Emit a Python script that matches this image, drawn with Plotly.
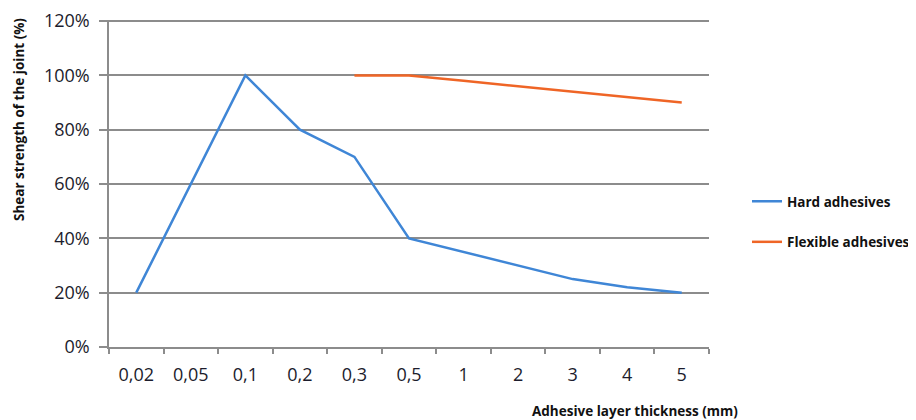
import plotly.graph_objects as go

categories = ["0,02", "0,05", "0,1", "0,2", "0,3", "0,5", "1", "2", "3", "4", "5"]
hard = [20, 60, 100, 80, 70, 40, 35, 30, 25, 22, 20]
flexible = [None, None, None, None, 100, 100, 98, 96, 94, 92, 90]
y_ticks = [0, 20, 40, 60, 80, 100, 120]
y_labels = ["0%", "20%", "40%", "60%", "80%", "100%", "120%"]

font = "Open Sans, Segoe UI, sans-serif"
# page body has an 8px margin; compensate so the plot area lands on the reference pixels
off = 8
W, H = 916 - off, 420 - off
L, R, T, B = 109 - off, 207, 20 - off, 73
pw, ph = W - L - R, H - T - B


def px_x(x):
    return (x - 109) / pw


def px_y(y):
    return (347 - y) / ph


fig = go.Figure()
fig.add_trace(go.Scatter(x=categories, y=hard, mode="lines", name="Hard adhesives",
                         line=dict(color="#3f86d6", width=2.5), legendgroup="a"))
fig.add_trace(go.Scatter(x=categories, y=flexible, mode="lines", name="Flexible adhesives",
                         line=dict(color="#ef6526", width=2.5), legendgroup="b"))

fig.update_layout(
    width=W, height=H,
    margin=dict(l=L, r=R, t=T, b=B, autoexpand=False),
    paper_bgcolor="white", plot_bgcolor="white",
    font=dict(family=font, color="#1c1c2c"),
    showlegend=True,
    legend=dict(x=px_x(747), y=px_y(222), xanchor="left", yanchor="middle",
                font=dict(size=13.5, color="#111111", family=font, weight="bold"),
                tracegroupgap=20, bgcolor="rgba(0,0,0,0)"),
    xaxis=dict(type="category", categoryarray=categories, showgrid=False,
               automargin=False,
               showline=True, linecolor="#8c8c8c", linewidth=1.5,
               ticks="outside", tickson="boundaries", ticklen=5, tickcolor="#8c8c8c",
               tickwidth=1.5, tickfont=dict(size=18), ticklabelstandoff=11,
               range=[-0.5, 10.5]),
    yaxis=dict(range=[0, 120.4], tickvals=y_ticks, ticktext=y_labels,
               automargin=False,
               showgrid=True, gridcolor="#8c8c8c", gridwidth=1.5,
               showline=True, linecolor="#8c8c8c", linewidth=1.5,
               ticks="outside", ticklen=8, tickcolor="#8c8c8c", tickwidth=1.5,
               tickfont=dict(size=18), ticklabelstandoff=6, zeroline=False),
    annotations=[
        dict(text="Shear strength of the joint (%)", textangle=-90,
             x=px_x(19), y=px_y(120), xref="paper", yref="paper", showarrow=False,
             xanchor="center", yanchor="middle",
             font=dict(size=13.5, color="#111111", family=font, weight="bold")),
        dict(text="Adhesive layer thickness (mm)",
             x=px_x(635), y=px_y(411), xref="paper", yref="paper", showarrow=False,
             xanchor="center", yanchor="middle",
             font=dict(size=13.5, color="#111111", family=font, weight="bold")),
    ],
)

fig.write_html("out.html")
